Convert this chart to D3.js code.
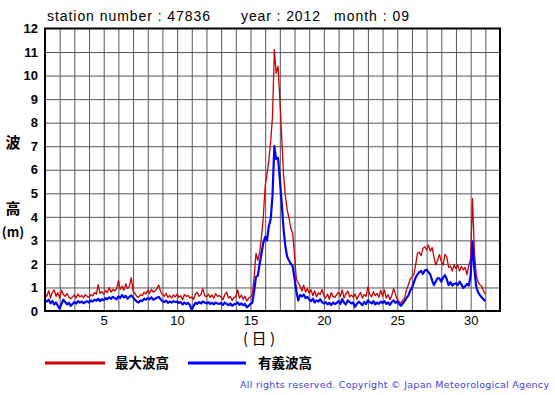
<!DOCTYPE html>
<html>
<head>
<meta charset="utf-8">
<script src="https://cdn.jsdelivr.net/npm/d3@7"></script>
<style>
  body { margin: 0; background: #fff; }
  svg { display: block; }
</style>
</head>
<body>
<div id="chart"></div>
<script>
// Observation setup: 3-hourly values from day 1 00:00 to day 31 00:00
var startDay = 1,
    stepDays = 0.125;

// Maximum wave height (m), 8 values per day
var maxWave = [
  0.75, 0.62, 0.86, 0.55, 0.80, 0.90, 0.62, 0.78,   // 1
  0.55, 0.88, 0.70, 0.62, 0.75, 0.58, 0.52, 0.60,   // 2
  0.68, 0.55, 0.72, 0.60, 0.66, 0.56, 0.70, 0.62,   // 3
  0.58, 0.70, 0.64, 0.78, 0.72, 1.12, 0.75, 0.82,   // 4
  0.72, 0.88, 0.78, 1.00, 0.80, 0.92, 0.85, 0.95,   // 5
  1.28, 0.92, 1.05, 0.88, 1.15, 0.95, 1.05, 1.42,   // 6
  0.85, 0.75, 0.62, 0.58, 0.70, 0.65, 0.80, 0.72,   // 7
  0.88, 0.75, 0.92, 0.80, 0.85, 0.95, 1.10, 0.82,   // 8
  0.70, 0.62, 0.75, 0.58, 0.66, 0.55, 0.68, 0.60,   // 9
  0.72, 0.58, 0.65, 0.48, 0.70, 0.62, 0.66, 0.55,   // 10
  0.60, 0.50, 0.72, 0.80, 0.62, 0.70, 0.95, 0.65,   // 11
  0.60, 0.72, 0.58, 0.68, 0.55, 0.74, 0.62, 0.66,   // 12
  0.58, 0.48, 0.70, 0.80, 0.55, 0.62, 0.45, 0.58,   // 13
  0.60, 0.90, 0.55, 0.68, 0.50, 0.62, 0.42, 0.55,   // 14
  0.60, 0.70, 1.45, 2.45, 2.15, 2.50, 3.15, 4.00,   // 15
  5.30, 5.80, 6.40, 7.20, 8.25, 11.10, 10.10, 10.40, // 16
  9.00, 7.40, 5.80, 4.90, 4.30, 3.95, 3.50, 3.30,   // 17
  2.40, 1.35, 1.20, 1.05, 0.85, 1.10, 0.80, 0.95,   // 18
  0.75, 0.90, 0.65, 0.85, 0.60, 0.78, 0.70, 0.92,   // 19
  0.65, 0.55, 0.72, 0.50, 0.78, 0.62, 0.58, 0.70,   // 20
  0.80, 0.62, 0.90, 0.55, 0.72, 0.85, 0.60, 0.68,   // 21
  0.58, 0.72, 0.50, 0.66, 0.78, 0.55, 0.70, 0.62,   // 22
  1.02, 0.70, 0.60, 0.82, 0.65, 0.75, 0.58, 0.88,   // 23
  0.62, 0.90, 0.55, 0.70, 0.48, 0.66, 0.95, 0.72,   // 24
  0.48, 0.40, 0.33, 0.45, 0.55, 0.90, 1.10, 1.35,   // 25
  1.45, 1.55, 1.95, 2.45, 2.50, 2.35, 2.66, 2.73,   // 26
  2.60, 2.80, 2.55, 2.70, 2.30, 1.95, 2.17, 2.40,   // 27
  2.10, 1.95, 2.40, 2.30, 1.85, 1.90, 1.70, 1.95,   // 28
  1.80, 1.95, 1.70, 1.90, 1.74, 1.85, 1.55, 1.95,   // 29
  2.20, 4.78, 2.60, 1.55, 1.25, 1.12, 1.05, 0.85,   // 30
  0.72                                              // 31
];

// Significant wave height (m)
var sigWave = [
  0.45, 0.40, 0.48, 0.33, 0.42, 0.28, 0.36, 0.22,   // 1
  0.10, 0.30, 0.48, 0.38, 0.28, 0.35, 0.22, 0.30,   // 2
  0.38, 0.32, 0.42, 0.36, 0.40, 0.33, 0.38, 0.42,   // 3
  0.36, 0.45, 0.40, 0.48, 0.44, 0.52, 0.42, 0.50,   // 4
  0.46, 0.55, 0.50, 0.58, 0.52, 0.60, 0.55, 0.50,   // 5
  0.62, 0.55, 0.68, 0.58, 0.64, 0.52, 0.60, 0.66,   // 6
  0.58, 0.48, 0.40, 0.36, 0.45, 0.42, 0.52, 0.48,   // 7
  0.55, 0.50, 0.58, 0.48, 0.52, 0.56, 0.60, 0.50,   // 8
  0.42, 0.38, 0.44, 0.35, 0.40, 0.36, 0.42, 0.38,   // 9
  0.40, 0.34, 0.38, 0.28, 0.36, 0.30, 0.34, 0.25,   // 10
  0.05, 0.22, 0.35, 0.30, 0.38, 0.32, 0.40, 0.36,   // 11
  0.32, 0.38, 0.30, 0.35, 0.28, 0.36, 0.32, 0.30,   // 12
  0.34, 0.26, 0.36, 0.30, 0.25, 0.32, 0.22, 0.28,   // 13
  0.30, 0.36, 0.26, 0.32, 0.24, 0.30, 0.16, 0.22,   // 14
  0.30, 0.36, 0.85, 1.45, 1.50, 2.00, 2.45, 2.90,   // 15
  3.15, 3.00, 3.60, 3.90, 4.90, 7.00, 6.45, 6.50,   // 16
  5.60, 4.60, 3.50, 2.75, 2.30, 2.15, 2.00, 1.90,   // 17
  1.40, 0.85, 0.45, 0.68, 0.62, 0.70, 0.55, 0.60,   // 18
  0.48, 0.42, 0.52, 0.36, 0.45, 0.40, 0.50, 0.38,   // 19
  0.32, 0.38, 0.28, 0.35, 0.25, 0.36, 0.30, 0.34,   // 20
  0.42, 0.30, 0.50, 0.35, 0.28, 0.45, 0.38, 0.32,   // 21
  0.36, 0.18, 0.30, 0.40, 0.33, 0.25, 0.38, 0.30,   // 22
  0.45, 0.38, 0.32, 0.42, 0.28, 0.36, 0.30, 0.40,   // 23
  0.34, 0.42, 0.30, 0.36, 0.26, 0.38, 0.45, 0.35,   // 24
  0.40, 0.30, 0.22, 0.32, 0.42, 0.55, 0.65, 0.85,   // 25
  0.98, 1.20, 1.42, 1.55, 1.65, 1.70, 1.58, 1.72,   // 26
  1.75, 1.65, 1.55, 1.30, 1.10, 1.25, 1.40, 1.38,   // 27
  1.25, 1.42, 1.52, 1.35, 1.10, 1.22, 1.08, 1.15,   // 28
  1.18, 1.10, 1.25, 1.12, 0.98, 1.05, 1.15, 1.08,   // 29
  1.50, 2.95, 1.80, 1.05, 0.80, 0.68, 0.58, 0.50,   // 30
  0.42                                              // 31
];

// Axis ticks
var xTicks = [5, 10, 15, 20, 25, 30];
var yTicks = [0, 1, 2, 3, 4, 5, 6, 7, 8, 9, 10, 11, 12];
var dayDomain = [1, 32];

var legendItems = [
  {label: "最大波高", color: "#cc0000"},
  {label: "有義波高", color: "#0000ff"}
];

// Plot frame
var W = 555, H = 395,
    plotL = 45, plotR = 500, plotT = 28.5, plotB = 311;

var svg = d3.select("#chart").append("svg")
    .attr("width", W)
    .attr("height", H)
    .style("font-family", "'Liberation Sans', Arial, sans-serif");

var x = d3.scaleLinear().domain(dayDomain).range([plotL, plotR]);
var y = d3.scaleLinear().domain([0, 12]).range([plotB, plotT]);

// Title
var titles = [
  {text: "station number : 47836", x: 47, len: 163},
  {text: "year : 2012", x: 241, len: 79},
  {text: "month : 09", x: 334, len: 75}
];
svg.selectAll(".title")
    .data(titles)
  .enter().append("text")
    .attr("class", "title")
    .attr("x", d => d.x)
    .attr("y", 21)
    .attr("font-size", "14px")
    .attr("textLength", d => d.len)
    .attr("lengthAdjust", "spacing")
    .text(d => d.text);

// Grid lines (one per day and one per metre)
svg.append("g")
    .attr("transform", "translate(0," + plotB + ")")
    .call(d3.axisBottom(x).tickValues(d3.range(2, 32)).tickSize(-(plotB - plotT)).tickFormat(""))
    .call(g => g.select(".domain").remove())
    .selectAll("line").attr("stroke", "#555").attr("stroke-width", 1);

svg.append("g")
    .attr("transform", "translate(" + plotL + ",0)")
    .call(d3.axisLeft(y).tickValues(d3.range(1, 12)).tickSize(-(plotR - plotL)).tickFormat(""))
    .call(g => g.select(".domain").remove())
    .selectAll("line").attr("stroke", "#555").attr("stroke-width", 1);

// Series lines
svg.append("clipPath").attr("id", "plot-clip")
  .append("rect")
    .attr("x", plotL).attr("y", plotT)
    .attr("width", plotR - plotL).attr("height", plotB - plotT);

var line = d3.line()
    .x((d, i) => x(startDay + i * stepDays))
    .y(d => y(d));

svg.append("path")
    .datum(maxWave)
    .attr("clip-path", "url(#plot-clip)")
    .attr("d", line)
    .style("fill", "none")
    .style("stroke", "#cc0000")
    .style("stroke-width", 1.3)
    .style("stroke-linejoin", "round");

svg.append("path")
    .datum(sigWave)
    .attr("clip-path", "url(#plot-clip)")
    .attr("d", line)
    .style("fill", "none")
    .style("stroke", "#0000ff")
    .style("stroke-width", 2.2)
    .style("stroke-linejoin", "round");

// Frame
svg.append("rect")
    .attr("x", plotL).attr("y", plotT)
    .attr("width", plotR - plotL).attr("height", plotB - plotT)
    .style("fill", "none")
    .style("stroke", "#000")
    .style("stroke-width", 2);

// Axis labels
svg.append("g")
    .attr("transform", "translate(" + plotL + ",0)")
    .call(d3.axisLeft(y).tickValues(yTicks).tickSize(0).tickPadding(7))
    .call(g => g.select(".domain").remove())
    .selectAll("text")
    .attr("font-family", "'Liberation Sans', Arial, sans-serif")
    .attr("font-size", "13px")
    .attr("font-weight", "bold")
    .attr("fill", "#000");

svg.append("g")
    .attr("transform", "translate(0," + plotB + ")")
    .call(d3.axisBottom(x).tickValues(xTicks).tickSize(0).tickPadding(5))
    .call(g => g.select(".domain").remove())
    .selectAll("text")
    .attr("font-family", "'Liberation Sans', Arial, sans-serif")
    .attr("font-size", "13px")
    .attr("fill", "#000");

svg.append("text")
    .attr("x", 259).attr("y", 344)
    .attr("text-anchor", "middle")
    .attr("font-family", "'Noto Sans CJK JP', sans-serif")
    .attr("font-size", "15px")
    .attr("textLength", 32)
    .attr("lengthAdjust", "spacing")
    .text("(日)");

var yLabel = [
  {text: "波", y: 148, size: 15},
  {text: "高", y: 214, size: 15},
  {text: "(m)", y: 237, size: 13}
];
svg.selectAll(".ylab")
    .data(yLabel)
  .enter().append("text")
    .attr("class", "ylab")
    .attr("x", 13)
    .attr("y", d => d.y)
    .attr("text-anchor", "middle")
    .attr("font-family", "'Noto Sans CJK JP', sans-serif")
    .attr("font-weight", "bold")
    .attr("font-size", d => d.size + "px")
    .text(d => d.text);

// Legend
var legend = svg.selectAll(".legend")
    .data(legendItems)
  .enter().append("g")
    .attr("class", "legend")
    .attr("transform", (d, i) => "translate(" + (45 + i * 143) + ",363)");

legend.append("line")
    .attr("x1", 0).attr("x2", (d, i) => i ? 58 : 60)
    .attr("y1", 0).attr("y2", 0)
    .style("stroke", d => d.color)
    .style("stroke-width", 3);

legend.append("text")
    .attr("x", 70)
    .attr("y", 5)
    .attr("font-family", "'Noto Sans CJK JP', sans-serif")
    .attr("font-weight", "bold")
    .attr("font-size", "13.5px")
    .attr("textLength", 54)
    .attr("lengthAdjust", "spacing")
    .text(d => d.label);

// Footer
svg.append("text")
    .attr("x", 240).attr("y", 388)
    .attr("font-family", "'DejaVu Sans', Verdana, sans-serif")
    .attr("font-size", "9.5px")
    .attr("fill", "#4040e8")
    .attr("textLength", 309)
    .attr("lengthAdjust", "spacing")
    .text("All rights reserved. Copyright © Japan Meteorological Agency");
</script>
</body>
</html>
